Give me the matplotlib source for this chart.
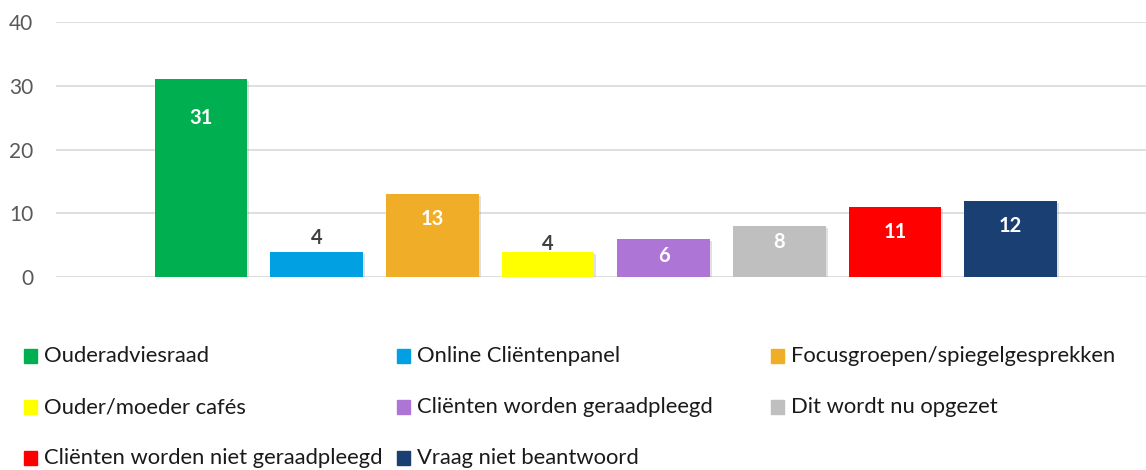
import matplotlib
matplotlib.use("Agg")
import matplotlib.pyplot as plt
from matplotlib.patches import Rectangle
import matplotlib.patheffects as pe

# chart data
categories = ["Ouderadviesraad", "Online Cliëntenpanel", "Focusgroepen/spiegelgesprekken",
              "Ouder/moeder cafés", "Cliënten worden geraadpleegd", "Dit wordt nu opgezet",
              "Cliënten worden niet geraadpleegd", "Vraag niet beantwoord"]
values = [31, 4, 13, 4, 6, 8, 11, 12]
colors = ["#00B050", "#00A0E3", "#F0AE28", "#FFFF00", "#AD76D6", "#BFBFBF", "#FF0000", "#1A3F72"]
label_colors = ["white", "#404040", "white", "#404040", "white", "white", "white", "white"]
# label offset from bar top, in pixels (negative = above)
label_offsets = [-39, 13, -25, 8, -17, -16, -25, -25]
yticks = [0, 10, 20, 30, 40]

plt.rcParams['font.family'] = ['Lato', 'DejaVu Sans']

fig = plt.figure(figsize=(11.46, 4.70), dpi=100)
ax = fig.add_axes([56 / 1146, 1 - 277 / 470, 1 - 56 / 1146, 255 / 470])

x = list(range(len(values)))
bars = ax.bar(x, values, width=0.8, color=colors, zorder=3)
for b in bars:
    b.set_path_effects([pe.SimplePatchShadow(offset=(1.5, -1.5), shadow_rgbFace="#999999", alpha=0.3),
                        pe.Normal()])

for xi, v, c, off in zip(x, values, label_colors, label_offsets):
    ax.annotate(str(v), (xi, v), xytext=(0, off), textcoords="offset pixels",
                ha="center", va="center", fontsize=14.5, fontweight="bold", color=c, zorder=4)

ax.set_xlim(-1.253, 8.17)
ax.set_ylim(0, 40)
ax.set_yticks(yticks)
ax.set_xticks([])
ax.grid(axis="y", color="#D9D9D9", linewidth=1.2, zorder=0)
ax.set_axisbelow(True)
for s in ax.spines.values():
    s.set_visible(False)
ax.tick_params(axis="y", length=0, pad=16.5, labelsize=15, labelcolor="#595959")
ax.set_facecolor("none")

# legend below, 3 columns
col_x = [24, 397, 771]
row_y = [356, 407, 458]
for i, (lab, col) in enumerate(zip(categories, colors)):
    cx = col_x[i % 3]
    cy = row_y[i // 3]
    fig.patches.append(Rectangle((cx / 1146, 1 - (cy + 7) / 470), 13 / 1146, 14 / 470,
                                 transform=fig.transFigure, color=col, figure=fig))
    fig.text((cx + 20) / 1146, 1 - cy / 470, lab, ha="left", va="center",
             fontsize=15.8, color="#1A1A1A")

fig.savefig("out.png", dpi=100)
